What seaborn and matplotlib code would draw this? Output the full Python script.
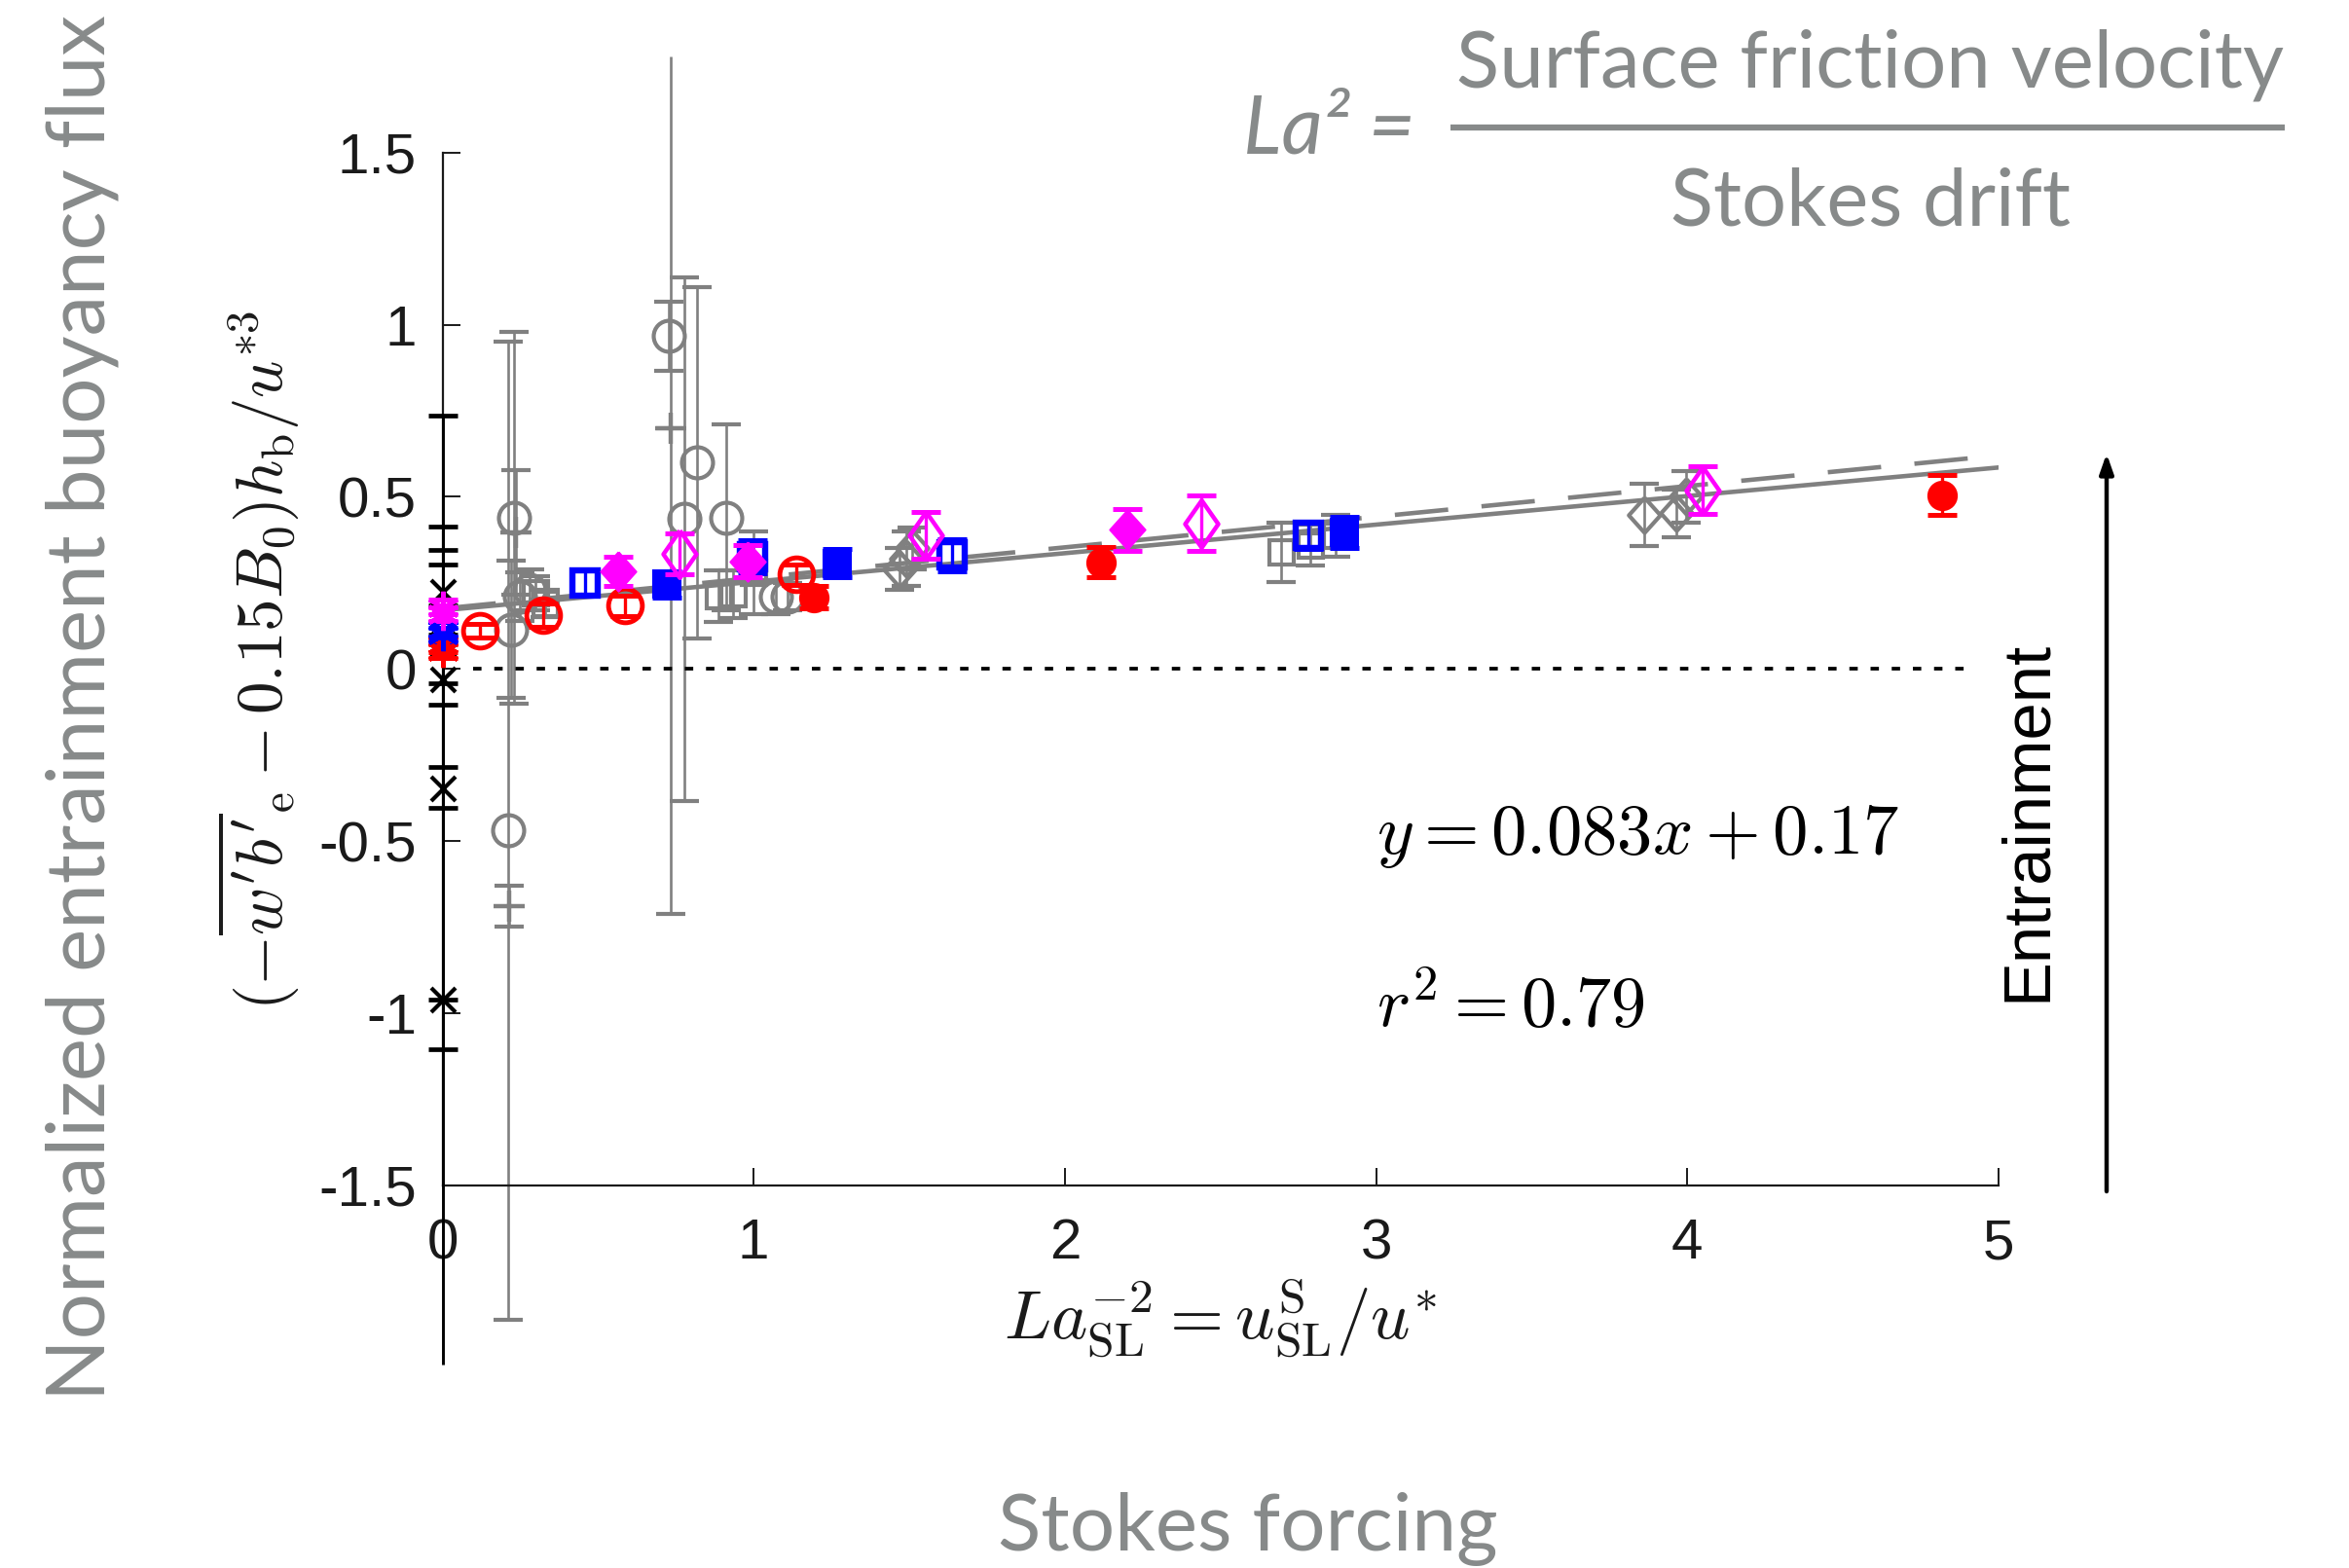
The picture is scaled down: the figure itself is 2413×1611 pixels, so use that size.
import numpy as np
import pandas as pd
import matplotlib
matplotlib.use("Agg")
import matplotlib.pyplot as plt
import seaborn as sns
from matplotlib.lines import Line2D

sns.set_theme(style="white")
plt.rcParams['font.family'] = ['Liberation Sans', 'DejaVu Sans']
plt.rcParams['mathtext.fontset'] = 'cm'

# ---------------- data ----------------
# gray open circles (x, y, lower err, upper err)
gc_x = [0.21, 0.23, 0.22, 0.25, 0.28, 0.726, 0.777, 0.819, 0.911, 1.07, 1.11]
gc_y = [-0.47, 0.44, 0.115, 0.21, 0.23, 0.967, 0.437, 0.599, 0.44, 0.209, 0.21]
gc_lo = [1.42, 0.54, 0.20, 0.07, 0.06, 0.10, 0.82, 0.51, 0.27, 0.05, 0.04]
gc_hi = [1.42, 0.54, 0.20, 0.07, 0.06, 0.10, 0.70, 0.51, 0.27, 0.05, 0.04]
# gray plus markers
gp_x = [0.215, 0.236, 0.734]
gp_y = [-0.69, 0.396, 0.698]
gp_lo = [0.06, 0.18, 1.41]
gp_hi = [0.06, 0.18, 0.0]
# uncapped long bar segments
gp_long_x = [0.734]
gp_long_y = [0.698]
gp_long_hi = [1.08]
# gray open squares
gs_x = [0.30, 0.33, 0.886, 0.933, 1.00, 2.695, 2.79, 2.87]
gs_y = [0.22, 0.19, 0.212, 0.217, 0.28, 0.339, 0.359, 0.387]
gs_err = [0.05, 0.04, 0.075, 0.07, 0.12, 0.087, 0.06, 0.06]
# gray open diamonds
gd_x = [1.47, 1.49, 1.51, 3.86, 3.966, 3.997]
gd_y = [0.29, 0.32, 0.35, 0.448, 0.452, 0.50]
gd_err = [0.06, 0.08, 0.06, 0.09, 0.07, 0.075]
# red open circles
ro_x = [0.121, 0.324, 0.585, 1.136]
ro_y = [0.112, 0.156, 0.184, 0.274]
ro_err = [0.02, 0.035, 0.03, 0.03]
# red filled circles
rf_x = [1.194, 2.116, 4.818]
rf_y = [0.208, 0.31, 0.505]
rf_err = [0.033, 0.045, 0.058]
# blue open squares
bo_x = [0.458, 0.996, 1.637, 2.783]
bo_y = [0.25, 0.326, 0.33, 0.387]
bo_err = [0.038, 0.047, 0.047, 0.04]
# blue filled squares
bf_x = [0.72, 1.267, 2.897]
bf_y = [0.246, 0.307, 0.397]
bf_err = [0.038, 0.04, 0.045]
# magenta filled diamonds
mf_x = [0.564, 0.981, 2.199]
mf_y = [0.283, 0.312, 0.404]
mf_err = [0.042, 0.047, 0.06]
# magenta open diamonds
mo_x = [0.762, 1.554, 2.439, 4.048]
mo_y = [0.335, 0.387, 0.423, 0.519]
mo_err = [0.06, 0.068, 0.08, 0.07]
# black crosses at zero Stokes forcing
k_x = [0, 0, 0, 0, 0, 0]
k_y = [0.225, -0.346, -0.96, -0.03, 0.07, 0.10]
k_lo = [0.51, 0.76, 0.0, 0.375, 0.113, 0.204]
k_hi = [0.51, 0.76, 1.06, 0.375, 0.113, 0.204]
# uncapped long lower segment
k_long_x = [0]
k_long_y = [-0.96]
k_long_lo = [1.06]
# coloured asterisks at zero Stokes forcing
sm_x, sm_y = [0, 0], [0.16, 0.18]
sb_x, sb_y = [0, 0], [0.115, 0.10]
sr_x, sr_y = [0, 0], [0.07, 0.052]
star_err = 0.02
# fit lines (end points)
fit_x = [0, 5]
fit_solid_y = [0.17, 0.585]
fit_dash_y = [0.175, 0.62]
zero_x = [0.1, 4.9]
zero_y = [0, 0]

xticks = [0, 1, 2, 3, 4, 5]
yticks = [-1.5, -1, -0.5, 0, 0.5, 1, 1.5]
ytick_labels = ['-1.5', '-1', '-0.5', '0', '0.5', '1', '1.5']

GRAY = '#808080'
TXTGRAY = '#878a8a'
INK = '#1a1a1a'

# ---------------- figure ----------------
W, H = 2413, 1611
fig = plt.figure(figsize=(W / 100, H / 100), dpi=100)
ax = fig.add_axes([454.5 / W, 1 - 1217.7 / H, (2053 - 454.5) / W, (1217.7 - 156.7) / H])
ax.set_xlim(0, 5)
ax.set_ylim(-1.5, 1.5)
ax.set_facecolor('none')
for s in ['top', 'right']:
    ax.spines[s].set_visible(False)
for s in ['left', 'bottom']:
    ax.spines[s].set_color(INK)
    ax.spines[s].set_linewidth(1.6)
ax.set_xticks(xticks)
ax.set_xticklabels([str(t) for t in xticks])
ax.set_yticks(yticks)
ax.set_yticklabels(ytick_labels)
ax.tick_params(axis='both', direction='in', length=13, width=1.4, colors=INK,
               labelsize=42, labelcolor=INK)
ax.tick_params(axis='x', pad=24, bottom=True)
ax.tick_params(axis='y', pad=19, left=True)
ax.grid(False)

CAP = 10.8


def bars(x, y, lo, hi, color, elw, capthick, z, capsize=CAP):
    ax.errorbar(x, y, yerr=[lo, hi], fmt='none', ecolor=color, elinewidth=elw,
                capsize=capsize, capthick=capthick, zorder=z, clip_on=False)


def eb(x, y, lo, hi, marker, color, ms, filled, mew, elw, capthick, z):
    bars(x, y, lo, hi, color, elw, capthick, z)
    ax.plot(x, y, ls='none', marker=marker, ms=ms, mec=color,
            mfc=color if filled else 'none', mew=mew, zorder=z + 0.5, clip_on=False)


diamond_tall = [(0, 1), (0.7, 0), (0, -1), (-0.7, 0), (0, 1)]
diamond_wide = [(0, 1), (0.9, 0), (0, -1), (-0.9, 0), (0, 1)]
asterisk = (6, 2, 0)

# gray (reference) data
eb(gc_x, gc_y, gc_lo, gc_hi, 'o', GRAY, 23, False, 3.0, 1.9, 3.0, 2)
eb(gp_x, gp_y, gp_lo, gp_hi, '+', GRAY, 23, False, 3.2, 1.9, 3.0, 2)
bars(gp_long_x, gp_long_y, [0] * len(gp_long_x), gp_long_hi, GRAY, 1.9, 0, 2, capsize=0)
eb(gs_x, gs_y, gs_err, gs_err, 's', GRAY, 18, False, 3.0, 1.9, 3.0, 2)
eb(gd_x, gd_y, gd_err, gd_err, diamond_wide, GRAY, 26, False, 3.0, 1.9, 3.0, 2)

# black crosses at x = 0
eb(k_x, k_y, k_lo, k_hi, 'x', 'black', 18, False, 3.0, 2.1, 3.4, 3)
bars(k_long_x, k_long_y, k_long_lo, [0] * len(k_long_x), 'black', 2.1, 0, 3, capsize=0)

# fit lines
sns.lineplot(x=fit_x, y=fit_dash_y, ax=ax, color=GRAY, lw=3.3, zorder=4)
ax.lines[-1].set_dashes((12, 7.5))
ax.lines[-1].set_solid_capstyle('butt')
sns.lineplot(x=fit_x, y=fit_solid_y, ax=ax, color=GRAY, lw=3.3, zorder=4)
sns.lineplot(x=zero_x, y=zero_y, ax=ax, color='black', lw=2.7, zorder=4)
ax.lines[-1].set_dashes((2.3, 3.5))

# coloured data
eb(ro_x, ro_y, ro_err, ro_err, 'o', 'red', 25, False, 3.5, 2.4, 3.6, 5)
eb(rf_x, rf_y, rf_err, rf_err, 'o', 'red', 21, True, 1.5, 2.4, 3.6, 5)
eb(bo_x, bo_y, bo_err, bo_err, 's', 'blue', 19, False, 4.6, 2.4, 3.6, 5)
eb(bf_x, bf_y, bf_err, bf_err, 's', 'blue', 20, True, 1.5, 2.4, 3.6, 5)
eb(mf_x, mf_y, mf_err, mf_err, diamond_wide, 'magenta', 29, True, 1.5, 2.4, 3.6, 6)
eb(mo_x, mo_y, mo_err, mo_err, diamond_tall, 'magenta', 35, False, 3.2, 2.4, 3.6, 6)
for sx, sy, c in [(sr_x, sr_y, 'red'), (sb_x, sb_y, 'blue'), (sm_x, sm_y, 'magenta')]:
    e = [star_err] * len(sx)
    eb(sx, sy, e, e, asterisk, c, 24, False, 3.2, 2.4, 3.6, 7)

# ---------------- texts ----------------
renderer = fig.canvas.get_renderer()


def fit(t, target, dim='w'):
    bb = t.get_window_extent(renderer)
    cur = bb.width if dim == 'w' else bb.height
    t.set_fontsize(t.get_fontsize() * target / cur)


gfont = ['Lato', 'DejaVu Sans']

t = fig.text(85 / W, 1 - 727 / H, 'Normalized entrainment buoyancy flux', rotation=90,
             ha='center', va='center', color=TXTGRAY, fontsize=56, family=gfont)
fit(t, 1424, 'h')
t = fig.text(1282 / W, 1 - 1593 / H, 'Stokes forcing', ha='center', va='baseline',
             color=TXTGRAY, fontsize=56, family=gfont)
fit(t, 513, 'w')
t = fig.text(1921 / W, 1 - 89 / H, 'Surface friction velocity', ha='center', va='baseline',
             color=TXTGRAY, fontsize=56, family=gfont)
fit(t, 851, 'w')
t = fig.text(1921 / W, 1 - 231 / H, 'Stokes drift', ha='center', va='baseline',
             color=TXTGRAY, fontsize=56, family=gfont)
fit(t, 411, 'w')
t = fig.text(1277 / W, 1 - 158 / H, 'La\u00b2 =', ha='left', va='baseline',
             color=TXTGRAY, fontsize=56, family=gfont, style='italic')
fit(t, 177, 'w')
fig.add_artist(Line2D([1490 / W, 2347 / W], [1 - 131 / H, 1 - 131 / H],
                      transform=fig.transFigure, color=TXTGRAY, lw=4.5, solid_capstyle='butt'))

t = fig.text(2083 / W, 1 - 843 / H, 'Entrainment', rotation=90, ha='center', va='center',
             color='black', fontsize=49, family=['Liberation Sans'])
fit(t, 371, 'h')
ax.annotate('', xy=(2164 / W, 1 - 466 / H), xytext=(2164 / W, 1 - 1224 / H),
            xycoords='figure fraction', textcoords='figure fraction',
            arrowprops=dict(arrowstyle='-|>,head_length=1.0,head_width=0.35', color='black',
                            lw=3.2, shrinkA=0, shrinkB=0))

t = fig.text(1254 / W, 1 - 1354 / H, r'$La_{\mathrm{SL}}^{-2} = u_{\mathrm{SL}}^{\mathrm{S}}/u^{*}$',
             ha='center', va='center', color=INK, fontsize=40)
fit(t, 446, 'w')
t = fig.text(265 / W, 1 - 678 / H,
             r"$(-\overline{w'b'}_{\mathrm{e}} - 0.15B_0)h_{\mathrm{b}}/u^{*3}$",
             rotation=90, ha='center', va='center', color=INK, fontsize=40)
fit(t, 720, 'h')
t = ax.text(3.0, -0.487, r'$y = 0.083x + 0.17$', ha='left', va='center', color='black', fontsize=50)
fit(t, 537, 'w')
t = ax.text(3.0, -0.987, r'$r^2 = 0.79$', ha='left', va='center', color='black', fontsize=50)
fit(t, 276, 'w')

fig.savefig('out.png', dpi=100)
